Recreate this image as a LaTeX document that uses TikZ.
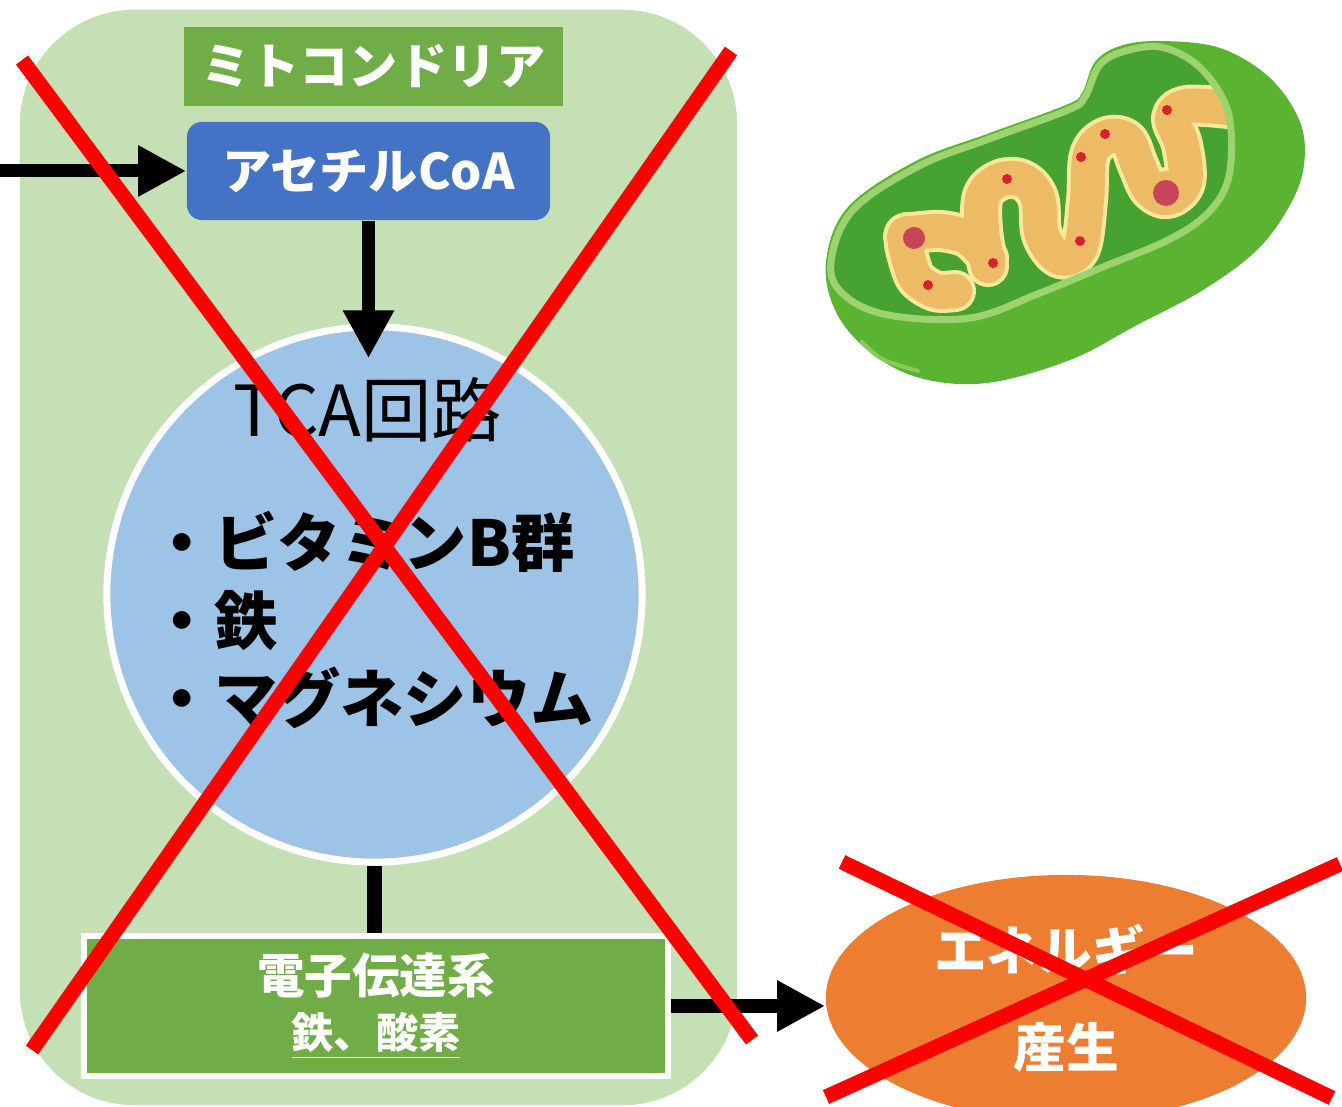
\documentclass[tikz,border=0pt]{standalone}
\usepackage{fontspec}
\setmainfont{Noto Sans CJK JP}
\usetikzlibrary{arrows.meta,shapes.geometric,positioning}

\definecolor{paleGreen}{HTML}{C5E0B4}
\definecolor{leafGreen}{HTML}{70AD47}
\definecolor{coaBlue}{HTML}{4472C4}
\definecolor{cycleBlue}{HTML}{9DC3E6}
\definecolor{energyOrange}{HTML}{ED7D31}
\definecolor{mitoBody}{HTML}{5AB431}
\definecolor{mitoFace}{HTML}{46A231}
\definecolor{mitoRim}{HTML}{9CD36E}
\definecolor{cristaFill}{HTML}{EDBB66}
\definecolor{cristaEdge}{HTML}{F8E89A}
\definecolor{dotRed}{HTML}{D8202F}
\definecolor{blobRed}{HTML}{C84458}

\begin{document}
\begin{tikzpicture}[x=0.01cm, y=-0.01cm,
  every node/.style={align=center, inner sep=0pt},
  arrow/.style={line width=0.13cm, -{Triangle[length=0.48cm, width=0.48cm]}},
  cross/.style={draw=red, line width=0.15cm},
  whitetext/.style={text=white, font=\fontsize{14}{17}\selectfont\bfseries}]
\useasboundingbox (0,0) rectangle (1342,1107);

% compartment and its contents
\node (mito) [fill=paleGreen, rounded corners=1.15cm, minimum width=7.17cm, minimum height=10.95cm] at (378.5,557.5) {};
\node (title) [fill=leafGreen, minimum width=3.79cm, minimum height=0.79cm, whitetext] at (373.5,66.5) {ミトコンドリア};
\node (acetyl) [fill=coaBlue, rounded corners=0.15cm, minimum width=3.63cm, minimum height=0.98cm, whitetext] at (368.5,171) {アセチルCoA};
\node (tca) [circle, fill=cycleBlue, draw=white, line width=0.07cm, minimum size=5.35cm] at (374.5,594.5) {};
\node (tcatitle) [font=\fontsize{20}{24}\selectfont] at (368,410) {TCA回路};
\node (cofactors) [anchor=west, align=left, font=\fontsize{18}{22.2}\selectfont\bfseries] at (150,620) {・ビタミンB群\\・鉄\\・マグネシウム};
\node (etc) [fill=leafGreen, draw=white, line width=0.06cm, minimum width=5.84cm, minimum height=1.40cm, text=white, font=\fontsize{13.5}{15.6}\selectfont\bfseries] at (376,1006) {電子伝達系\\{\fontsize{12}{15.6}\selectfont\underline{鉄、酸素}}};
\node (energy) [ellipse, fill=energyOrange, minimum width=4.8cm, minimum height=2.46cm, text=white, font=\fontsize{15}{27.6}\selectfont\bfseries] at (1066,998) {エネルギー\\産生};

\coordinate (feed) at (0,171);
\draw[arrow] (feed) -- (acetyl.west);
\draw[arrow, shorten >=-0.35cm] (acetyl.south) -- (acetyl.south |- tca.north);
\draw[line width=0.14cm] (tca.south) -- (tca.south |- etc.north);
\draw[arrow] (etc.east) -- (etc.east -| energy.west);

% mitochondrion sketch
\def\mitoface{plot[smooth cycle, tension=0.6] coordinates {(831,262) (853,210) (919,166) (989,139) (1068,110) (1085,97) (1099,66) (1122,52) (1160,47) (1196,64) (1222,97) (1231,130) (1228,180) (1207,214) (1168,240) (1103,267) (1040,293) (970,318) (888,315) (843,294)}}
\fill[mitoBody] plot[smooth cycle, tension=0.6] coordinates {(826,262) (848,207) (916,161) (987,134) (1066,105) (1082,93) (1095,62) (1120,46) (1160,41) (1220,48) (1270,78) (1300,122) (1304,165) (1290,205) (1257,250) (1203,290) (1137,325) (1070,360) (987,383) (920,378) (870,352) (836,312)};
\draw[mitoRim!70!mitoBody, line width=0.04cm, line cap=round] (862,342) .. controls (880,360) .. (918,371);
\fill[mitoFace] \mitoface;
\begin{scope}
  \clip \mitoface;
  % cristae: pale edge first, then the fill on top
  \foreach \col/\w/\r in {cristaEdge/0.42cm/25, cristaFill/0.34cm/21} {
    \draw[color=\col, line width=\w, line cap=round, line join=round] plot[smooth, tension=0.6] coordinates {(988,266) (982,230) (983,196) (1000,180) (1022,180) (1038,198) (1042,235) (1060,258) (1080,248) (1087,200) (1090,155) (1107,137) (1127,140) (1138,165) (1150,190) (1168,198) (1185,182) (1182,145) (1172,118) (1187,106) (1228,108)};
    \draw[color=\col, line width=\w, line cap=round, line join=round] plot[smooth] coordinates {(905,234) (940,231) (968,238) (988,258)};
    \draw[color=\col, line width=\w, line cap=round, line join=round] plot[smooth] coordinates {(905,245) (915,277) (935,291) (955,291)};
    \fill[color=\col] (908,237) circle[radius=\r];
    \fill[color=\col] (1167,192) circle[radius=\r];
  }
  \foreach \p in {(1007,179),(1081,157),(1105,134),(1167,110),(1080,241),(993,263),(928,285)}
    \fill[dotRed] \p circle[radius=5];
  \fill[blobRed] (914,238) circle[radius=11];
  \fill[blobRed] (1166,193) circle[radius=13];
\end{scope}
\draw[mitoRim, line width=0.07cm] \mitoface;

% crossed out
\draw[cross] (22,60) -- (752,1040);
\draw[cross] (731,51) -- (32,1050);
\draw[cross] (842,862) -- (1332,1098);
\draw[cross] (1340,864) -- (826,1097);
\end{tikzpicture}
\end{document}
